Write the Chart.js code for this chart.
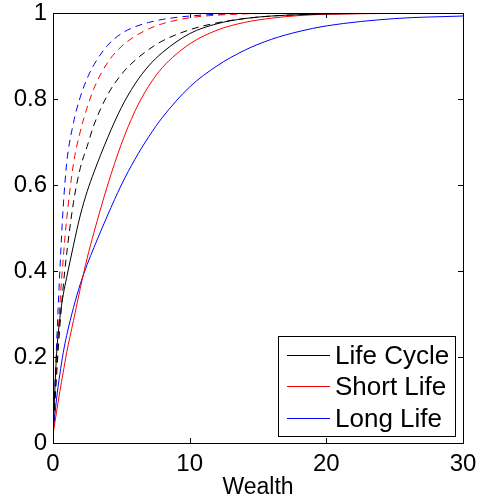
<!DOCTYPE html>
<html>
<head>
<meta charset="utf-8">
<script src="https://cdn.jsdelivr.net/npm/chart.js@4.4.1/dist/chart.umd.min.js"></script>
<style>
  html, body { margin: 0; padding: 0; background: #fff; }
  #wrap { width: 478px; height: 501px; position: relative; }
</style>
</head>
<body>
<div id="wrap"><canvas id="c" width="478" height="501"></canvas></div>
<script>
// ---- data ----
const wealth = [0, 0.25, 0.5, 0.75, 1, 1.5, 2, 2.5, 3, 4, 5, 6, 7, 8, 10, 12, 14, 16, 18, 20, 25, 30];

const lifeCycle = [0.02, 0.20, 0.29, 0.345, 0.385, 0.46, 0.53, 0.585, 0.63, 0.71, 0.78, 0.835, 0.877, 0.908, 0.952, 0.975, 0.987, 0.993, 0.996, 0.998, 0.999, 1.0];
const shortLife = [0.02, 0.07, 0.12, 0.165, 0.21, 0.285, 0.36, 0.43, 0.49, 0.60, 0.695, 0.772, 0.83, 0.873, 0.928, 0.96, 0.978, 0.988, 0.994, 0.997, 0.999, 1.0];
const longLife  = [0.02, 0.10, 0.16, 0.21, 0.25, 0.315, 0.37, 0.415, 0.455, 0.53, 0.60, 0.66, 0.712, 0.757, 0.828, 0.877, 0.913, 0.939, 0.957, 0.97, 0.987, 0.993];

const lifeCycleDashed = [0.02, 0.15, 0.27, 0.365, 0.44, 0.56, 0.64, 0.69, 0.74, 0.81, 0.857, 0.89, 0.915, 0.935, 0.961, 0.977, 0.987, 0.993, 0.996, 0.998, 1.0, 1.0];
const shortLifeDashed = [0.02, 0.17, 0.32, 0.43, 0.52, 0.65, 0.725, 0.78, 0.825, 0.885, 0.922, 0.946, 0.963, 0.975, 0.989, 0.995, 0.998, 0.999, 1.0, 1.0, 1.0, 1.0];
const longLifeDashed  = [0.02, 0.22, 0.40, 0.55, 0.65, 0.745, 0.805, 0.848, 0.88, 0.925, 0.952, 0.968, 0.978, 0.985, 0.993, 0.997, 0.999, 1.0, 1.0, 1.0, 1.0, 1.0];

const seriesLabels = ['Life Cycle', 'Short Life', 'Long Life'];
const xTickLabels = ['0', '10', '20', '30'];
const yTickLabels = ['0', '0.2', '0.4', '0.6', '0.8', '1'];
const xTitle = 'Wealth';

// ---- build datasets ----
const pts = arr => arr.map((v, i) => ({ x: wealth[i], y: v }));
const colors = ['#000000', '#ff0000', '#0000ff'];
function ds(label, arr, color, dashed) {
  return {
    label: label,
    data: pts(arr),
    borderColor: color,
    backgroundColor: color,
    borderWidth: 1,
    borderDash: dashed ? [7, 5] : [],
    pointRadius: 0,
    fill: false,
    cubicInterpolationMode: 'monotone',
    inLegend: !dashed
  };
}
const datasets = [
  ds(seriesLabels[0], lifeCycle, colors[0], false),
  ds(seriesLabels[1], shortLife, colors[1], false),
  ds(seriesLabels[2], longLife, colors[2], false),
  ds(seriesLabels[0] + ' (dashed)', lifeCycleDashed, colors[0], true),
  ds(seriesLabels[1] + ' (dashed)', shortLifeDashed, colors[1], true),
  ds(seriesLabels[2] + ' (dashed)', longLifeDashed, colors[2], true)
];

const FONT = '"Liberation Sans", Arial, Helvetica, sans-serif';

// frame, inward ticks on all four sides, and boxed legend
const framePlugin = {
  id: 'frame',
  afterDraw(chart) {
    const ctx = chart.ctx;
    const a = chart.chartArea;
    const xs = chart.scales.x, ys = chart.scales.y;
    ctx.save();
    ctx.strokeStyle = '#000';
    ctx.lineWidth = 1;
    ctx.setLineDash([]);
    ctx.strokeRect(Math.round(a.left) + 0.5, Math.round(a.top) + 0.5,
                   Math.round(a.right - a.left), Math.round(a.bottom - a.top));
    const tl = 5;
    ctx.beginPath();
    xs.ticks.forEach(t => {
      const px = Math.round(xs.getPixelForValue(t.value)) + 0.5;
      ctx.moveTo(px, a.bottom); ctx.lineTo(px, a.bottom - tl);
      ctx.moveTo(px, a.top); ctx.lineTo(px, a.top + tl);
    });
    ys.ticks.forEach(t => {
      const py = Math.round(ys.getPixelForValue(t.value)) + 0.5;
      ctx.moveTo(a.left, py); ctx.lineTo(a.left + tl, py);
      ctx.moveTo(a.right, py); ctx.lineTo(a.right - tl, py);
    });
    ctx.stroke();

    // legend box
    const items = chart.data.datasets.filter(d => d.inLegend);
    const bx = a.right - 185, by = a.bottom - 107, bw = 177, bh = 100;
    ctx.fillStyle = '#fff';
    ctx.fillRect(bx, by, bw, bh);
    ctx.strokeRect(Math.round(bx) + 0.5, Math.round(by) + 0.5, bw, bh);
    ctx.font = '26px ' + FONT;
    ctx.textBaseline = 'middle';
    ctx.textAlign = 'left';
    items.forEach((d, i) => {
      const cy = Math.round(by + 18.5 + i * 31.5) + 0.5;
      ctx.strokeStyle = d.borderColor;
      ctx.beginPath();
      ctx.moveTo(bx + 9, cy); ctx.lineTo(bx + 52, cy);
      ctx.stroke();
      ctx.fillStyle = '#000';
      ctx.fillText(d.label, bx + 57, cy + 1);
    });
    ctx.restore();
  }
};

function zeroPad(s) { s.paddingTop = 0; s.paddingBottom = 0; s.paddingLeft = 0; s.paddingRight = 0; }

new Chart(document.getElementById('c'), {
  type: 'line',
  data: { datasets: datasets },
  options: {
    responsive: false,
    animation: false,
    layout: { padding: { left: 0, right: 15, top: 13, bottom: 0 } },
    plugins: { legend: { display: false }, tooltip: { enabled: false } },
    scales: {
      x: {
        type: 'linear',
        min: 0, max: 30,
        afterFit: s => { s.height = 58; zeroPad(s); },
        grid: { display: false, drawTicks: false },
        border: { display: true, color: '#000', width: 1 },
        ticks: {
          stepSize: 10,
          color: '#000',
          padding: 7,
          maxRotation: 0,
          font: { family: FONT, size: 24 },
          callback: (v, i) => xTickLabels[i]
        },
        title: {
          display: true,
          text: xTitle,
          color: '#000',
          font: { family: FONT, size: 23 },
          padding: { top: 0, bottom: 0 }
        }
      },
      y: {
        type: 'linear',
        min: 0, max: 1,
        afterFit: s => { s.width = 53; zeroPad(s); },
        grid: { display: false, drawTicks: false },
        border: { display: true, color: '#000', width: 1 },
        ticks: {
          stepSize: 0.2,
          color: '#000',
          padding: 6,
          font: { family: FONT, size: 24 },
          callback: (v, i) => yTickLabels[i]
        }
      }
    }
  },
  plugins: [framePlugin]
});
</script>
</body>
</html>
